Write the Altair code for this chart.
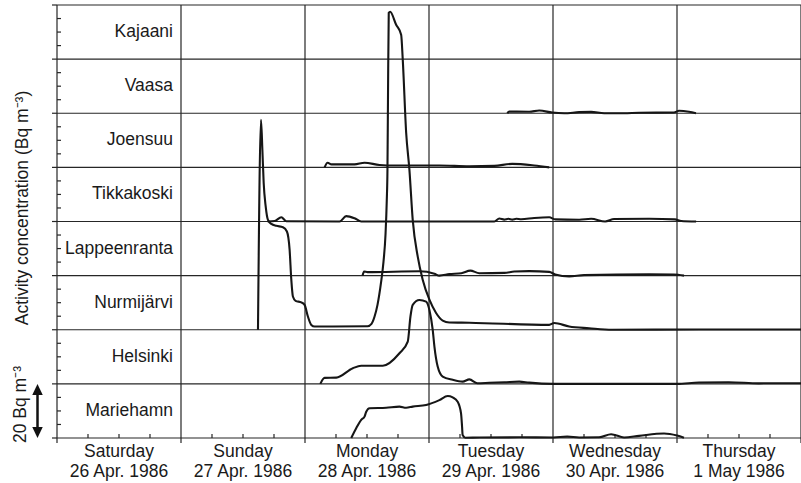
import altair as alt
import pandas as pd

# ---------------- data ----------------
stations = ["Kajaani", "Vaasa", "Joensuu", "Tikkakoski", "Lappeenranta",
            "Nurmijärvi", "Helsinki", "Mariehamn"]
band = 20  # Bq m-3 per band

# hours since Saturday 26 Apr 1986 00:00, activity (Bq m-3)
vaasa_h = [87.15, 87.54, 91.4, 93.34, 95.85, 98.17, 101.07, 103.38, 105.9, 109.76, 112.66, 119.42, 120.39, 122.32, 123.68]
vaasa_v = [0, 0.6, 0.55, 1.0, 0.25, 0, 0.4, 0.5, 0, 0, 0.2, 0.25, 0.9, 0.55, 0]

joensuu_h = [51.79, 52.37, 53.14, 57.59, 59.52, 62.42, 65.31, 70.15, 74.01, 79.81, 84.64, 88.12, 92.37, 95.27]
joensuu_v = [0, 1.7, 1.1, 1.1, 1.7, 0.9, 0.7, 0.7, 0.7, 0.4, 0.55, 1.3, 0.7, 0]

tikka_h = [40.77, 42.13, 43.42, 44.39, 54.69, 55.98, 57.59, 58.88, 84.64, 85.61, 86.57, 87.35, 88.12,
           88.89, 89.86, 92.37, 95.27, 96.43, 101.07, 103.38, 106.09, 107.83, 114.6, 119.6, 120.8, 123.7]
tikka_v = [0, 0.2, 1.55, 0.1, 0, 2.0, 1.2, 0, 0, 1.1, 0.7, 1.0, 0.7,
           1.0, 0.85, 1.3, 1.55, 0.8, 0.65, 1.0, 0, 0.9, 1.0, 0.8, 0.2, 0]

lappeen_h = [59.14, 59.43, 60.1, 70.15, 73.05, 74.01, 75.94, 78.26, 80.0, 81.74, 86.57, 88.51, 91.4,
             95.27, 96.43, 99.13, 102.03, 114.6, 119.42, 121.35]
lappeen_v = [0, 1.5, 1.3, 1.6, 0.7, 0, 0.55, 0.9, 1.85, 0.9, 1.0, 1.5, 1.65,
             1.4, 0.4, -0.3, 0.2, 0.45, 0.4, 0]

nurmi_h = [38.9, 39.48, 39.75, 40.0, 40.39, 40.83, 41.49, 42.45, 43.73, 44.5, 45.02, 45.35, 45.66,
           46.18, 47.29, 47.92, 48.56, 49.22, 49.86, 60.1, 60.87, 61.45, 62.03, 62.71, 63.19, 63.58,
           63.83, 63.96, 64.06, 64.21, 64.48, 65.64, 66.61, 66.92, 67.58, 68.21, 68.85, 69.82, 70.78,
           72.08, 73.37, 74.65, 75.94, 79.81, 95.27, 96.23, 99.13, 102.99, 107.44, 124.25, 144]
nurmi_v = [0, 77.6, 66.5, 54.3, 45.6, 40.6, 39.1, 38.4, 37.9, 36.3, 29.6, 18.5, 12.3,
           10.7, 10.1, 9.2, 4.9, 1.8, 1.2, 1.3, 2.2, 4.8, 9.2, 17.4, 25.1, 35.1,
           48.0, 59.1, 85.0, 117.1, 117.5, 112.7, 109.0, 99.8, 72.8, 59.1, 40.6, 27.0, 18.5,
           11.1, 6.2, 3.4, 2.7, 2.6, 1.8, 2.5, 1.2, 0.55, 0, 0.1, 0.1]

helsinki_h = [50.96, 51.79, 54.05, 57.26, 58.88, 63.05, 66.28, 67.89, 68.41, 68.85, 70.15, 71.44, 72.08,
              72.72, 73.05, 73.68, 74.65, 76.58, 78.51, 79.81, 81.36, 83.67, 86.57, 89.47, 91.4, 96.04,
              120.0, 124.25, 130.05, 135.85, 144]
helsinki_v = [0, 2.2, 2.3, 5.8, 6.7, 6.7, 11.3, 15.6, 24.9, 29.2, 31.0, 30.4, 27.3,
              19.95, 13.8, 6.4, 2.7, 1.5, 0.85, 1.65, 0.25, 0.4, 0.6, 0.85, 0.45, 0,
              0, 0.5, 0.6, 0.2, 0.25]

marie_h = [56.95, 57.91, 58.88, 59.52, 59.85, 60.49, 63.71, 66.28, 67.58, 68.85, 71.44, 74.01, 75.62,
           76.58, 77.55, 78.2, 78.4, 78.51, 79.03, 81.74, 89.47, 96.04, 98.75, 101.07, 104.93, 107.25,
           109.76, 112.66, 117.49, 120.0, 121.35]
marie_v = [0, 3.6, 6.7, 7.9, 9.7, 11.0, 11.2, 11.6, 11.2, 11.6, 12.2, 14.0, 15.5,
           15.0, 13.4, 9.1, 4.2, 1.1, 0.1, 0.2, 0.25, 0.2, 0.5, 0.2, 0.25, 1.4,
           0.2, 0.8, 1.65, 0.9, 0.1]

day_names = ["Saturday", "Sunday", "Monday", "Tuesday", "Wednesday", "Thursday"]
day_dates = ["26 Apr. 1986", "27 Apr. 1986", "28 Apr. 1986", "29 Apr. 1986", "30 Apr. 1986", "1 May 1986"]

y_title = "Activity concentration (Bq m\u207b\u00b3)"
scale_label = "20 Bq m\u207b\u00b3"

# ---------------- tables ----------------
series = {
    "Vaasa": (vaasa_h, vaasa_v),
    "Joensuu": (joensuu_h, joensuu_v),
    "Tikkakoski": (tikka_h, tikka_v),
    "Lappeenranta": (lappeen_h, lappeen_v),
    "Nurmijärvi": (nurmi_h, nurmi_v),
    "Helsinki": (helsinki_h, helsinki_v),
    "Mariehamn": (marie_h, marie_v),
}
n = len(stations)
rows = []
for name, (hs, vs) in series.items():
    off = (n - 1 - stations.index(name)) * band
    for h, v in zip(hs, vs):
        rows.append({"station": name, "hour": h, "y": off + v})
df = pd.DataFrame(rows)

labels_df = pd.DataFrame({
    "station": stations,
    "ymid": [(n - 1 - i) * band + band / 2 for i in range(n)],
})
hgrid = pd.DataFrame({"y": [i * band for i in range(n + 1)]})
vgrid = pd.DataFrame({"hour": [i * 24 for i in range(len(day_names) + 1)]})
yminor = pd.DataFrame({"y": [v for v in range(0, n * band + 1, 5) if v % band != 0]})
xminor = pd.DataFrame({"hour": [h for h in range(0, 24 * len(day_names) + 1, 6) if h % 24 != 0]})
days_df = pd.DataFrame({"hour": [24 * i + 12 for i in range(len(day_names))],
                        "name": day_names, "date": day_dates})

W, H = 744, 433
xs = alt.Scale(domain=[0, 24 * len(day_names)], nice=False, zero=False)
ys = alt.Scale(domain=[0, n * band], nice=False)
FONT = "Liberation Sans"
FS = 17.5
GRID = "#262626"

X = lambda f: alt.X(f, type="quantitative", scale=xs, axis=None)
Y = lambda f: alt.Y(f, type="quantitative", scale=ys, axis=None)

hlines = alt.Chart(hgrid).mark_rule(color=GRID, strokeWidth=1.2).encode(
    y=Y("y"), x=alt.value(0), x2=alt.value(W))
vlines = alt.Chart(vgrid).mark_rule(color=GRID, strokeWidth=1.2).encode(
    x=X("hour"), y=alt.value(0), y2=alt.value(H))
ymaj = alt.Chart(hgrid).mark_rule(color=GRID, strokeWidth=1.2).encode(
    y=Y("y"), x=alt.value(-5), x2=alt.value(0))
ymin = alt.Chart(yminor).mark_rule(color=GRID, strokeWidth=1.2).encode(
    y=Y("y"), x=alt.value(0), x2=alt.value(4))
xmaj = alt.Chart(vgrid).mark_rule(color=GRID, strokeWidth=1.2).encode(
    x=X("hour"), y=alt.value(H), y2=alt.value(H + 5))
xmin = alt.Chart(xminor).mark_rule(color=GRID, strokeWidth=1.2).encode(
    x=X("hour"), y=alt.value(H - 4), y2=alt.value(H))

lines = alt.Chart(df).mark_line(color="#161616", strokeWidth=2.1, interpolate="monotone").encode(
    x=X("hour"), y=Y("y"), detail="station:N", order="hour:Q")

st_text = alt.Chart(labels_df).mark_text(
    font=FONT, fontSize=FS, align="right", baseline="middle", color="#1a1a1a").encode(
    x=alt.value(116), y=Y("ymid"), text="station:N")

day1 = alt.Chart(days_df).mark_text(
    font=FONT, fontSize=FS, align="center", baseline="alphabetic", color="#1a1a1a").encode(
    x=X("hour"), y=alt.value(452), text="name:N")
day2 = alt.Chart(days_df).mark_text(
    font=FONT, fontSize=FS, align="center", baseline="alphabetic", color="#1a1a1a").encode(
    x=X("hour"), y=alt.value(472), text="date:N")

ytitle = alt.Chart(pd.DataFrame({"t": [y_title]})).mark_text(
    font=FONT, fontSize=FS, angle=270, align="center", baseline="alphabetic", color="#1a1a1a").encode(
    x=alt.value(-29), y=alt.value(203), text="t:N")

scale_df = pd.DataFrame({"t": [scale_label], "y": [0]})
stext = alt.Chart(scale_df).mark_text(
    font=FONT, fontSize=FS, angle=270, align="left", baseline="alphabetic", color="#1a1a1a").encode(
    x=alt.value(-31), y=alt.value(438), text="t:N")

shaft = alt.Chart(pd.DataFrame({"y": [1.5], "y2": [band - 1.5]})).mark_rule(
    color="#111", strokeWidth=2.5).encode(
    x=alt.value(-19.5), y=Y("y"), y2="y2:Q")
head_up = alt.Chart(pd.DataFrame({"y": [band]})).mark_point(
    shape="M0,0L1,2.1L-1,2.1Z", filled=True, size=110, color="#111", opacity=1).encode(
    x=alt.value(-19.5), y=Y("y"))
head_dn = alt.Chart(pd.DataFrame({"y": [0]})).mark_point(
    shape="M0,0L1,-2.1L-1,-2.1Z", filled=True, size=110, color="#111", opacity=1).encode(
    x=alt.value(-19.5), y=Y("y"))

chart = alt.layer(
    hlines, vlines, ymaj, ymin, xmaj, xmin, lines, st_text, day1, day2, ytitle, stext,
    shaft, head_up, head_dn
).properties(
    width=W, height=H,
    autosize=alt.AutoSizeParams(type="none"),
    padding={"left": 57, "top": 5, "right": 0, "bottom": 45},
    background="white",
).configure_view(stroke=None)

chart.save("out.html", embed_options={"renderer": "svg", "actions": False})
